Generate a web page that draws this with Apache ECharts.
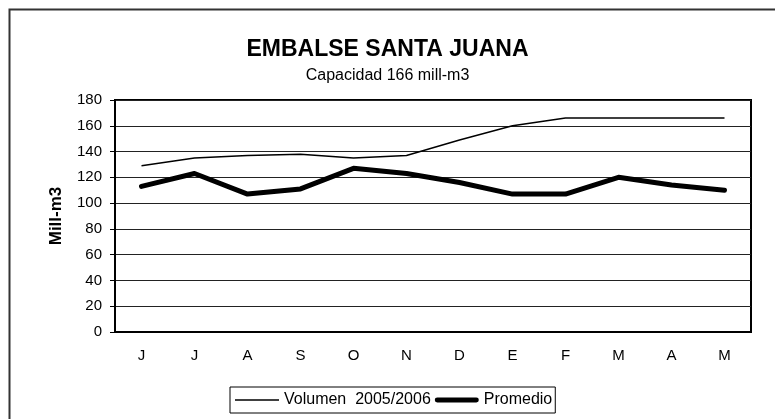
<!DOCTYPE html>
<html>
<head>
<meta charset="utf-8">
<script src="https://cdn.jsdelivr.net/npm/echarts@6/dist/echarts.min.js"></script>
<style>
html,body{margin:0;padding:0;background:#fff;}
#chart{width:775px;height:419px;}
</style>
</head>
<body>
<div id="chart"></div>
<script>
const categories = ['J','J','A','S','O','N','D','E','F','M','A','M'];
const volumen = [129,135,137,138,135,137,149,160,166,166,166,166];
const promedio = [113,123,107,111,127,123,116,107,107,120,114,110];
const yTicks = {min:0, max:180, interval:20};
const titleText = 'EMBALSE SANTA JUANA';
const subtitleText = 'Capacidad 166 mill-m3';
const yAxisName = 'Mill-m3';
const seriesNames = ['Volumen  2005/2006','Promedio'];

const font = '"Liberation Sans", Arial, sans-serif';
const thinIcon = 'path://M0,0L0,0M0,6.25L44,6.25L44,7.75L0,7.75ZM44,14L44,14';
const thickIcon = 'path://M0,0L0,0M2,4.5L42,4.5A2.5,2.5,0,0,1,42,9.5L2,9.5A2.5,2.5,0,0,1,2,4.5ZM44,14L44,14';
const chart = echarts.init(document.getElementById('chart'), null, {renderer:'canvas'});
chart.setOption({
  backgroundColor:'#fff',
  animation:false,
  graphic:[{
    type:'rect', left:7, top:7, shape:{x:0,y:0,width:800,height:500},
    style:{fill:'none', stroke:'#333', lineWidth:2}, silent:true, z:-10
  }],
  title:[{
    text:titleText, left:'center', top:33,
    textStyle:{fontFamily:font, fontSize:23, fontWeight:'bold', color:'#000'}
  },{
    text:subtitleText, left:'center', top:63,
    textStyle:{fontFamily:font, fontSize:16, fontWeight:'normal', color:'#000'}
  }],
  legend:{
    show:true,
    left:230, top:387,
    orient:'horizontal',
    data:[{name:seriesNames[0], icon:thinIcon},{name:seriesNames[1], icon:thickIcon}],
    itemWidth:44, itemHeight:14, itemGap:4,
    padding:[5,3,5,5],
    borderColor:'#000', borderWidth:1,
    backgroundColor:'#fff',
    itemStyle:{color:'#000', borderWidth:0},
    textStyle:{fontFamily:font, fontSize:16, color:'#000'}
  },
  grid:{left:115, right:24, top:100, bottom:87, show:true, borderColor:'#000', borderWidth:2, backgroundColor:'#fff'},
  xAxis:{
    type:'category', data:categories, boundaryGap:true,
    axisLine:{lineStyle:{color:'#000', width:2}},
    axisTick:{inside:true, length:5, lineStyle:{color:'#000', width:1.5}},
    axisLabel:{fontFamily:font, fontSize:15, color:'#000', margin:16},
    splitLine:{show:false}
  },
  yAxis:{
    type:'value', min:yTicks.min, max:yTicks.max, interval:yTicks.interval,
    name:yAxisName, nameLocation:'middle', nameGap:50, nameRotate:90,
    nameTextStyle:{fontFamily:font, fontSize:17, fontWeight:'bold', color:'#000'},
    axisLine:{show:true, lineStyle:{color:'#000', width:2}},
    axisTick:{show:true, length:5, lineStyle:{color:'#000', width:1}},
    axisLabel:{fontFamily:font, fontSize:15, color:'#000', margin:13},
    splitLine:{show:true, lineStyle:{color:'#222', width:1}}
  },
  series:[{
    name:seriesNames[0], type:'line', data:volumen, symbol:'none',
    lineStyle:{color:'#000', width:1.5}, itemStyle:{color:'#000'}
  },{
    name:seriesNames[1], type:'line', data:promedio, symbol:'none',
    lineStyle:{color:'#000', width:5, cap:'round', join:'round'}, itemStyle:{color:'#000'}
  }]
});
</script>
</body>
</html>
